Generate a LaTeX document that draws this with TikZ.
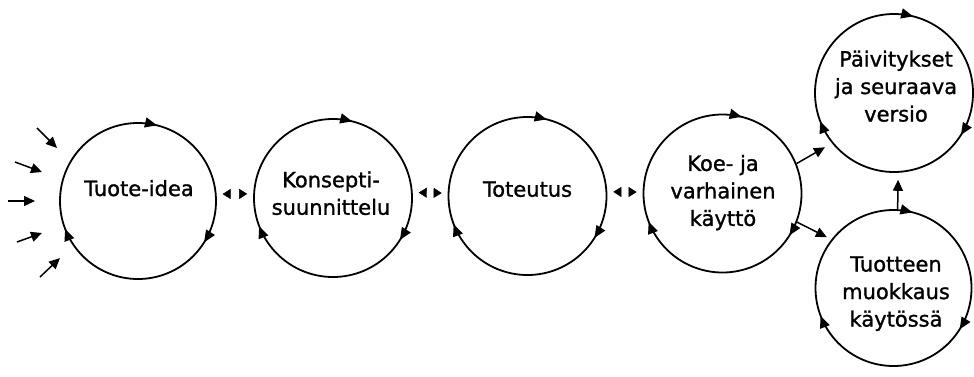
\documentclass[tikz,border=0pt]{standalone}
\usepackage{fontspec}
\setmainfont{DejaVu Sans}
\newfontfamily\lblfont[FakeBold=1.2]{DejaVu Sans}
\usetikzlibrary{arrows.meta,decorations.markings}
\tikzset{
  stage/.style={draw, circle, line width=1.8pt, inner sep=0pt, minimum size=#1,
    postaction={decorate, decoration={markings,
      mark=at position 0.211 with {\arrowreversed{Triangle[length=12pt,width=10pt]}},
      mark=at position 0.558 with {\arrowreversed{Triangle[length=12pt,width=10pt]}},
      mark=at position 0.911 with {\arrowreversed{Triangle[length=12pt,width=10pt]}}}}},
  lbl/.style={align=center, font=\lblfont\fontsize{21}{27.5}\selectfont, inner sep=0pt},
  conn/.style={line width=1.5pt, -{Triangle[length=11pt,width=10pt]}},
  dbl/.style={postaction={decorate, decoration={markings,
      mark=at position 6pt with {\arrowreversed{Triangle[length=8pt,width=10pt]}},
      mark=at position -6pt with {\arrow{Triangle[length=8pt,width=10pt]}}}}}
}
\begin{document}
\begin{tikzpicture}[x=1pt,y=1pt]
\useasboundingbox (0,0) rectangle (974,376);
\fill[white] (0,0) rectangle (974,376);
% stages
\node[stage=156pt] (c1) at (138,175) {};
\node[stage=158pt] (c2) at (333,178) {};
\node[stage=158pt] (c3) at (527.5,180) {};
\node[stage=158pt] (c4) at (722.5,182.5) {};
\node[stage=158pt] (c5) at (894,283) {};
\node[stage=156pt] (c6) at (893.5,88) {};
% labels
\node[lbl] (t1) at (139,187.8) {Tuote-idea};
\node[lbl] (t2) at (331,182.8) {Konsepti-\\suunnittelu};
\node[lbl] (t3) at (527.5,186.8) {Toteutus};
\node[lbl] (t4) at (723,183.4) {Koe- ja\\varhainen\\käyttö};
\node[lbl] (t5) at (896,289.8) {Päivitykset\\ja seuraava\\versio};
\node[lbl] (t6) at (896,82.4) {Tuotteen\\muokkaus\\käytössä};
% incoming arrows
\coordinate (a1s) at (37,248); \coordinate (a1e) at (57,228);
\coordinate (a2s) at (15,214); \coordinate (a2e) at (42,204);
\coordinate (a3s) at (8,175);  \coordinate (a3e) at (35,175);
\coordinate (a4s) at (17,134); \coordinate (a4e) at (42,143);
\coordinate (a5s) at (40,99);  \coordinate (a5e) at (60,118);
\draw[conn] (a1s) -- (a1e);
\draw[conn] (a2s) -- (a2e);
\draw[conn] (a3s) -- (a3e);
\draw[conn] (a4s) -- (a4e);
\draw[conn] (a5s) -- (a5e);
% double arrows between stages
\path[dbl] (c1.5) -- (c2.177);
\path[dbl] (c2.4) -- (c3.178);
\path[dbl] (c3.3) -- (c4.179);
% branches
\draw[conn, shorten >=8pt] (c4.22) -- (c5.219);
\draw[conn, shorten >=5pt] (c4.-21) -- (c6.142);
\draw[conn, shorten >=7pt] (c6.87) -- (c5.273);
\end{tikzpicture}
\end{document}
